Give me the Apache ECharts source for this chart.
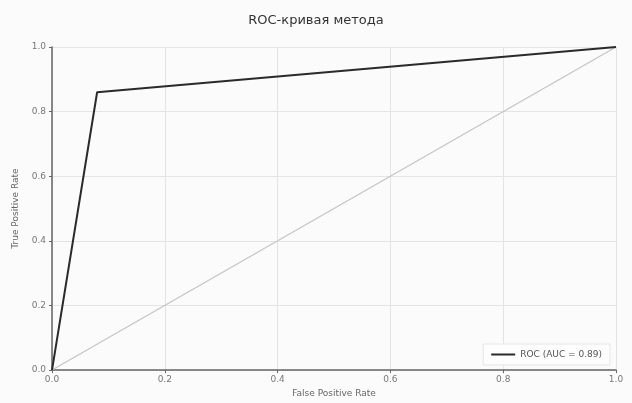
<!DOCTYPE html>
<html>
<head>
<meta charset="utf-8">
<script src="https://cdn.jsdelivr.net/npm/echarts@6/dist/echarts.min.js"></script>
<style>
  html, body { margin: 0; padding: 0; background: #fbfbfb; }
  #chart { width: 632px; height: 403px; }
</style>
</head>
<body>
<div id="chart"></div>
<script>
// ROC curve points (false positive rate / true positive rate)
const fpr = [0.0, 0.08, 1.0];
const tpr = [0.0, 0.86, 1.0];
// chance-level diagonal
const chanceX = [0.0, 1.0];
const chanceY = [0.0, 1.0];
const aucLabel = 'ROC (AUC = 0.89)';
const titleText = 'ROC-кривая метода';

const roc = fpr.map((x, i) => [x, tpr[i]]);
const chance = chanceX.map((x, i) => [x, chanceY[i]]);

const font = 'DejaVu Sans';
const chart = echarts.init(document.getElementById('chart'));
chart.setOption({
  backgroundColor: '#fbfbfb',
  animation: false,
  title: {
    text: titleText,
    left: 'center',
    top: 9,
    textStyle: { fontFamily: font, fontSize: 13, fontWeight: 'normal', color: '#333' }
  },
  grid: { left: 52, right: 16, top: 47, bottom: 30 },
  legend: {
    data: [{ name: aucLabel, icon: 'rect' }],
    right: 22,
    bottom: 38,
    itemWidth: 24,
    itemHeight: 2,
    padding: [6, 8],
    borderColor: '#e6e6e6',
    borderWidth: 1,
    backgroundColor: '#fdfdfd',
    textStyle: { fontFamily: font, fontSize: 9, color: '#555' }
  },
  xAxis: {
    type: 'value',
    min: 0, max: 1, interval: 0.2,
    name: 'False Positive Rate',
    nameLocation: 'middle',
    nameGap: 18,
    nameTextStyle: { fontFamily: font, fontSize: 9, color: '#666' },
    axisLine: { lineStyle: { color: '#666', width: 1.5 } },
    axisTick: { show: true, length: 3, lineStyle: { color: '#666' } },
    axisLabel: { fontFamily: font, fontSize: 9, color: '#777', margin: 5,
                 formatter: v => v.toFixed(1) },
    splitLine: { show: true, lineStyle: { color: '#e4e4e4', width: 1 } }
  },
  yAxis: {
    type: 'value',
    min: 0, max: 1, interval: 0.2,
    name: 'True Positive Rate',
    nameLocation: 'middle',
    nameGap: 32,
    nameTextStyle: { fontFamily: font, fontSize: 9, color: '#666' },
    axisLine: { show: true, lineStyle: { color: '#666', width: 1.5 } },
    axisTick: { show: true, length: 3, lineStyle: { color: '#666' } },
    axisLabel: { fontFamily: font, fontSize: 9, color: '#777', margin: 6,
                 formatter: v => v.toFixed(1) },
    splitLine: { show: true, lineStyle: { color: '#e4e4e4', width: 1 } }
  },
  series: [
    {
      name: 'chance',
      type: 'line',
      data: chance,
      showSymbol: false,
      silent: true,
      lineStyle: { color: '#c4c4c4', width: 1.2 },
      z: 1
    },
    {
      name: aucLabel,
      type: 'line',
      data: roc,
      showSymbol: false,
      itemStyle: { color: '#2a2a2a' },
      lineStyle: { color: '#2a2a2a', width: 2 },
      z: 3
    }
  ]
});
</script>
</body>
</html>
